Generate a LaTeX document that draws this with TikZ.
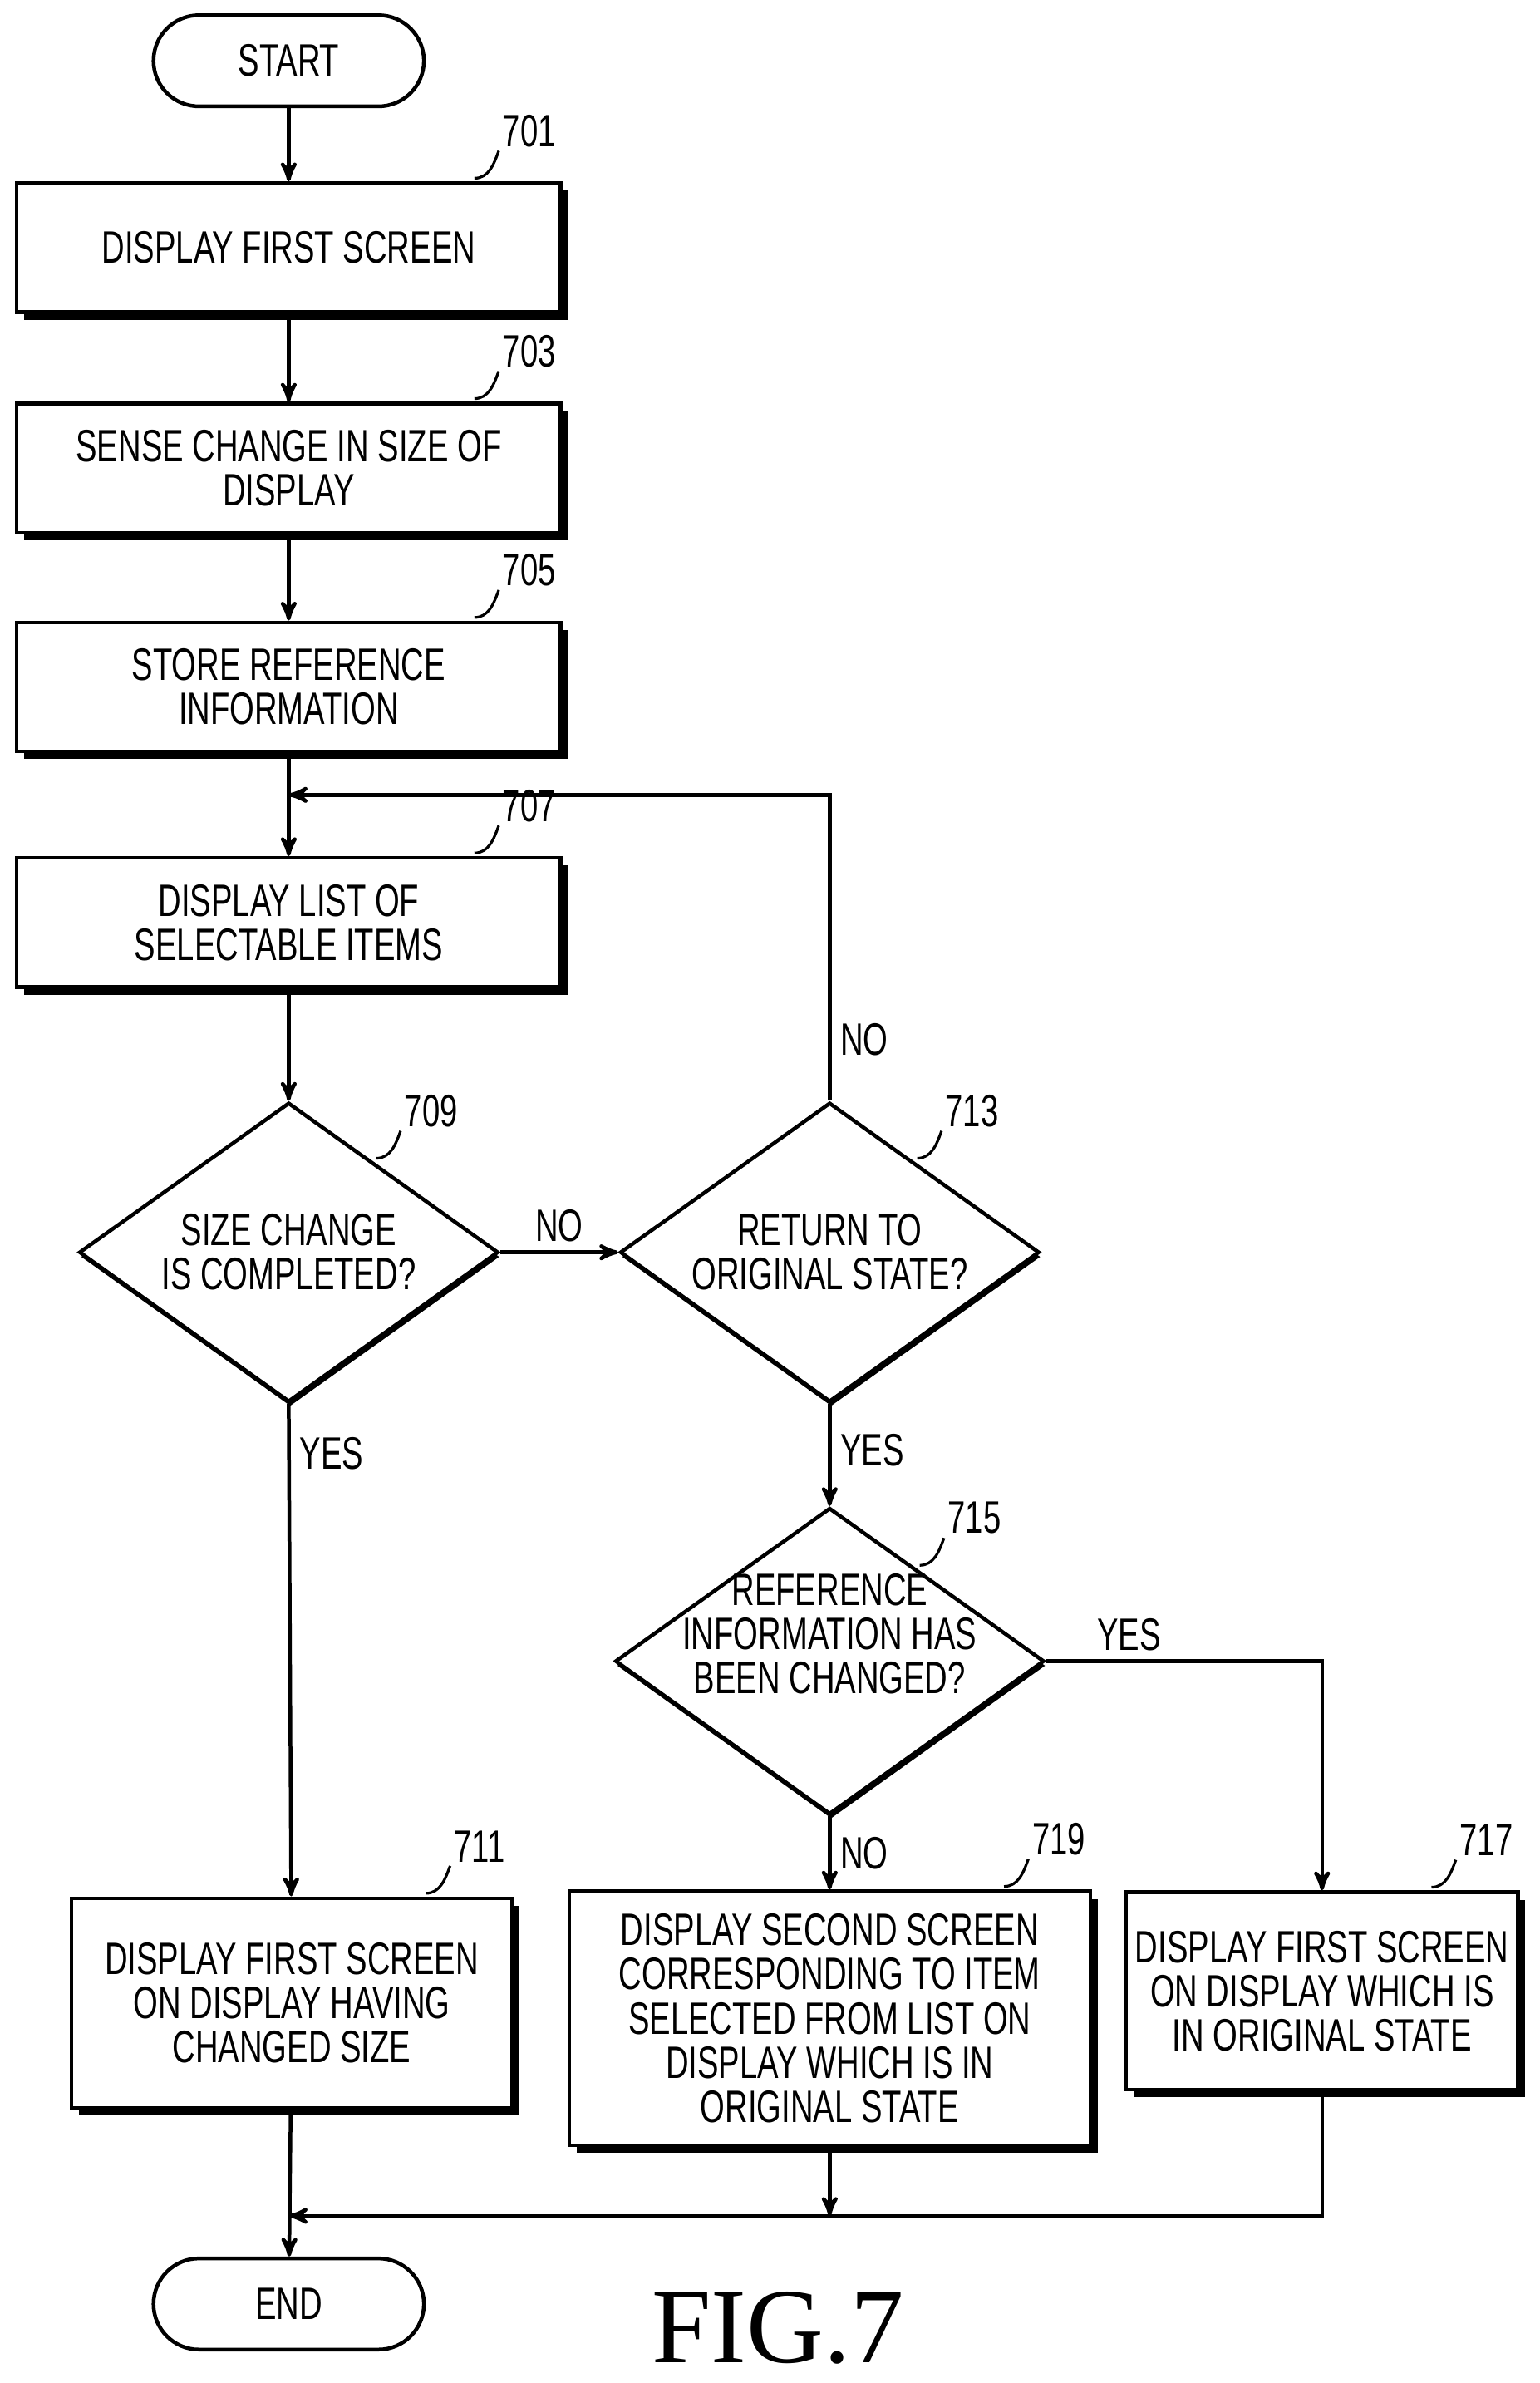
\documentclass[tikz,border=0pt]{standalone}
\usepackage{fontspec}
\setmainfont{Liberation Sans}[FakeStretch=0.7]
\newfontfamily\figfont{Liberation Serif}
\usetikzlibrary{positioning}
\usetikzlibrary{arrows}
\usetikzlibrary{calc}
\usetikzlibrary{shapes.geometric}
\usetikzlibrary{shadows}

\newcommand{\stepno}[3]{% node, anchor shift, number
  \draw[line width=1pt] ($(#1)+(#2)$) to[out=0,in=250] ($(#1)+(#2)+(16,-18)$)
    node[anchor=south west,inner sep=1pt] {#3};}

\begin{document}
\begin{tikzpicture}[x=0.02cm,y=-0.02cm,>=stealth',line width=1.4pt,
    font=\fontsize{17}{16.5}\selectfont,
    shade/.style={fill=white,drop shadow={fill=black,opacity=1,shadow xshift=0.1cm,shadow yshift=-0.1cm}},
    step node/.style={draw,shade,align=center,minimum width=7.16cm,minimum height=1.7cm},
    test node/.style={diamond,draw,fill=white,drop shadow={fill=black,opacity=1,shadow xshift=0.02cm,shadow yshift=-0.06cm},
                      align=center,aspect=1.4,inner sep=-0.3cm,
                      minimum width=5.52cm,minimum height=3.94cm}]
  \useasboundingbox (0,0) rectangle (1013,1568);

  \node[draw,rounded corners=0.6cm,minimum width=3.56cm,minimum height=1.2cm] (start) at (190,40) {START};
  \node[step node] (s701) at (190,163) {DISPLAY FIRST SCREEN};
  \node[step node] (s703) at (190,308) {SENSE CHANGE IN SIZE OF\\DISPLAY};
  \node[step node] (s705) at (190,452) {STORE REFERENCE\\INFORMATION};
  \node[step node] (s707) at (190,607) {DISPLAY LIST OF\\SELECTABLE ITEMS};
  \node[test node] (s709) at (190,824) {SIZE CHANGE\\IS COMPLETED?};
  \node[test node] (s713) at (546,824) {RETURN TO\\ORIGINAL STATE?};
  \node[test node] (s715) at (546,1093) {REFERENCE\\INFORMATION HAS\\BEEN CHANGED?\\[4pt]};
  \node[draw,shade,align=center,minimum width=5.8cm,minimum height=2.76cm] (s711) at (192,1318)
    {DISPLAY FIRST SCREEN\\ON DISPLAY HAVING\\CHANGED SIZE};
  \node[draw,shade,align=center,minimum width=6.86cm,minimum height=3.34cm] (s719) at (546,1328)
    {DISPLAY SECOND SCREEN\\CORRESPONDING TO ITEM\\SELECTED FROM LIST ON\\DISPLAY WHICH IS IN\\ORIGINAL STATE};
  \node[draw,shade,align=center,minimum width=5cm,minimum height=2.6cm] (s717) at (870,1310)
    {DISPLAY FIRST SCREEN\\ON DISPLAY WHICH IS\\IN ORIGINAL STATE};
  \node[draw,rounded corners=0.6cm,minimum width=3.56cm,minimum height=1.2cm] (end) at (190,1516) {END};
  \node[font=\figfont\fontsize{40}{40}\selectfont] (fig) at (512,1532) {FIG.7};

  \coordinate (loop) at (190,523);
  \coordinate (merge) at (546,1458);
  \coordinate (join) at (190,1458);

  \stepno{s701.north east}{-58,-2}{701}
  \stepno{s703.north east}{-58,-2}{703}
  \stepno{s705.north east}{-58,-2}{705}
  \stepno{s707.north east}{-58,-2}{707}
  \stepno{s709.north east}{-12,-12}{709}
  \stepno{s713.north east}{-12,-12}{713}
  \stepno{s715.north east}{-12,-12}{715}
  \stepno{s711.north east}{-58,-2}{711}
  \stepno{s719.north east}{-58,-2}{719}
  \stepno{s717.north east}{-58,-2}{717}

  \draw[->] (start) -- (s701);
  \draw[->] (s701) -- (s703);
  \draw[->] (s703) -- (s705);
  \draw[->] (s705) -- (s707);
  \draw[->] (s707) -- (s709);
  \draw[->] (s709) -- node[above] {NO} (s713);
  \draw[->] (s713.north) |- node[pos=0.1,right] {NO} (loop);
  \draw[->] (s709.south) -- node[pos=0.1,right] {YES} (s711);
  \draw[->] (s713.south) -- node[pos=0.45,right] {YES} (s715);
  \draw[->] (s715.east) -| node[pos=0.15,above] {YES} (s717.north);
  \draw[->] (s715.south) -- node[right] {NO} (s719);
  \draw[->] (s719) -- (merge);
  \draw[->] (s717.south) |- (join);
  \draw[->] (s711) -- (end);
\end{tikzpicture}
\end{document}
